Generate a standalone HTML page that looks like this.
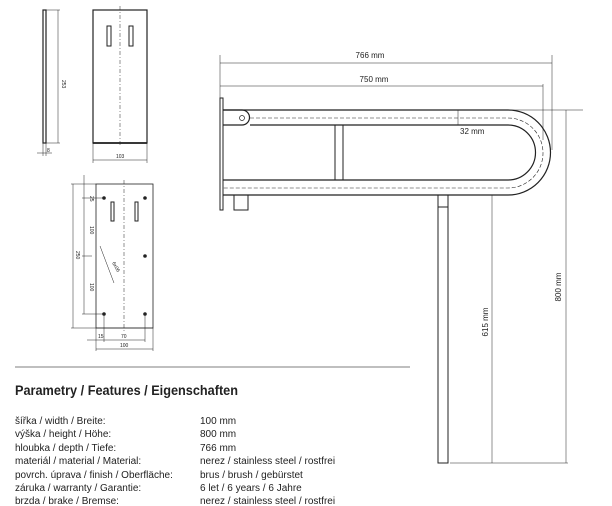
<!DOCTYPE html>
<html><head><meta charset="utf-8"><style>
html,body{margin:0;padding:0;background:#fff;width:612px;height:506px;overflow:hidden}
svg{position:absolute;left:0;top:0}
.t{font-family:"Liberation Sans",sans-serif;fill:#222}
</style></head><body>
<svg width="612" height="506" viewBox="0 0 612 506" xmlns="http://www.w3.org/2000/svg">
<g stroke="#222" fill="none" stroke-width="1">
<rect x="43" y="10" width="3" height="133" stroke-width="1.2"/>
<line x1="46" y1="10" x2="60" y2="10" stroke-width="0.5"/>
<line x1="46" y1="143" x2="60" y2="143" stroke-width="0.5"/>
<line x1="58" y1="10" x2="58" y2="143" stroke-width="0.5"/>
<line x1="37" y1="153" x2="52" y2="153" stroke-width="0.5"/>
<line x1="43" y1="143" x2="43" y2="156" stroke-width="0.5"/>
<line x1="46" y1="143" x2="46" y2="156" stroke-width="0.5"/>
<rect x="93" y="10" width="54" height="133" stroke-width="1.2"/>
<line x1="93" y1="143" x2="147" y2="143" stroke-width="1.8"/>
<line x1="120" y1="6" x2="120" y2="146" stroke-dasharray="4,2,1,2" stroke-width="0.5"/>
<rect x="107" y="26" width="4" height="20"/>
<rect x="129" y="26" width="4" height="20"/>
<line x1="93" y1="143" x2="93" y2="163" stroke-width="0.5"/>
<line x1="147" y1="143" x2="147" y2="163" stroke-width="0.5"/>
<line x1="93" y1="160" x2="147" y2="160" stroke-width="0.5"/>
<rect x="96" y="184" width="57" height="144" stroke-width="0.8"/>
<line x1="124" y1="180" x2="124" y2="332" stroke-dasharray="4,2,1,2" stroke-width="0.5"/>
<rect x="111" y="202" width="3" height="19"/>
<rect x="135" y="202" width="3" height="19"/>
<line x1="73" y1="184" x2="73" y2="328" stroke-width="0.5"/>
<line x1="71" y1="184" x2="96" y2="184" stroke-width="0.5"/>
<line x1="71" y1="328" x2="153" y2="328" stroke-width="0.5"/>
<line x1="84" y1="175" x2="84" y2="314" stroke-width="0.5"/>
<line x1="82" y1="198" x2="104" y2="198" stroke-width="0.5"/>
<line x1="82" y1="256" x2="92" y2="256" stroke-width="0.5"/>
<line x1="82" y1="314" x2="104" y2="314" stroke-width="0.5"/>
<line x1="100" y1="246" x2="114" y2="283" stroke-width="0.5"/>
<line x1="104" y1="314" x2="104" y2="342" stroke-width="0.5"/>
<line x1="145" y1="314" x2="145" y2="342" stroke-width="0.5"/>
<line x1="87" y1="340" x2="145" y2="340" stroke-width="0.5"/>
<line x1="96" y1="328" x2="96" y2="351" stroke-width="0.5"/>
<line x1="153" y1="328" x2="153" y2="351" stroke-width="0.5"/>
<line x1="96" y1="349" x2="153" y2="349" stroke-width="0.5"/>
</g>
<g fill="#222">
<circle cx="104" cy="198" r="1.8"/><circle cx="145" cy="198" r="1.8"/>
<circle cx="145" cy="256" r="1.8"/><circle cx="104" cy="314" r="1.8"/><circle cx="145" cy="314" r="1.8"/>
</g>
<g class="t" font-size="5">
<text x="62" y="80" transform="rotate(90 62 80)">253</text>
<text x="116" y="158">103</text>
<text x="47" y="152">8</text>
<text x="90" y="196" transform="rotate(90 90 196)">25</text>
<text x="90" y="226" transform="rotate(90 90 226)">100</text>
<text x="76" y="251" transform="rotate(90 76 251)">250</text>
<text x="90" y="283" transform="rotate(90 90 283)">100</text>
<text x="112" y="263" transform="rotate(60 112 263)">6x06</text>
<text x="98" y="338">15</text>
<text x="121" y="338">70</text>
<text x="120" y="347">100</text>
</g>
<g stroke="#222" fill="none">
<rect x="220" y="98" width="3" height="112" stroke-width="1"/>
<path d="M223 110 H508 A42.5 42.5 0 0 1 508 195 H223" stroke-width="1.2"/>
<path d="M250 125 H508 A27.5 27.5 0 0 1 508 180 H223" stroke-width="1.2"/>
<path d="M223 110 H242 A7.5 7.5 0 0 1 242 125 H223" stroke-width="1.2"/>
<path d="M250 118 H508 A35 35 0 0 1 508 188 H223" stroke-width="0.6" stroke-dasharray="4,2"/>
<circle cx="242" cy="118" r="2.5" stroke-width="0.7"/>
<rect x="335" y="125" width="8" height="55" stroke-width="1"/>
<rect x="234" y="195" width="14" height="15" stroke-width="1"/>
<rect x="438" y="195" width="10" height="12" stroke-width="1"/>
<rect x="438" y="207" width="10" height="256" stroke-width="1"/>
<line x1="220" y1="55" x2="220" y2="98" stroke-width="0.5"/>
<line x1="552" y1="55" x2="552" y2="150" stroke-width="0.5"/>
<line x1="543" y1="84" x2="543" y2="140" stroke-width="0.5"/>
<line x1="220" y1="63" x2="552" y2="63" stroke-width="0.5"/>
<line x1="220" y1="86" x2="543" y2="86" stroke-width="0.5"/>
<line x1="458" y1="110" x2="458" y2="125" stroke-width="0.5"/>
<line x1="508" y1="110" x2="583" y2="110" stroke-width="0.5"/>
<line x1="566" y1="110" x2="566" y2="463" stroke-width="0.5"/>
<line x1="492" y1="195" x2="492" y2="463" stroke-width="0.5"/>
<line x1="450" y1="463" x2="568" y2="463" stroke-width="0.5"/>
</g>
<line x1="15" y1="367" x2="410" y2="367" stroke="#999" stroke-width="1.2"/>
<g class="t" font-size="8">
<text x="370" y="58" text-anchor="middle">766 mm</text>
<text x="374" y="82" text-anchor="middle">750 mm</text>
<text x="460" y="134">32 mm</text>
<text x="561" y="287" transform="rotate(-90 561 287)" text-anchor="middle">800 mm</text>
<text x="488" y="322" transform="rotate(-90 488 322)" text-anchor="middle">615 mm</text>
</g>
<text class="t" x="15" y="395" font-size="13.5" font-weight="bold" textLength="223" lengthAdjust="spacingAndGlyphs">Parametry / Features / Eigenschaften</text>
<g class="t" font-size="10">
<text x="15" y="424">šířka / width / Breite:</text><text x="200" y="424">100 mm</text>
<text x="15" y="437">výška / height / Höhe:</text><text x="200" y="437">800 mm</text>
<text x="15" y="451">hloubka / depth / Tiefe:</text><text x="200" y="451">766 mm</text>
<text x="15" y="464">materiál / material / Material:</text><text x="200" y="464">nerez / stainless steel / rostfrei</text>
<text x="15" y="478">povrch. úprava / finish / Oberfläche:</text><text x="200" y="478">brus / brush / gebürstet</text>
<text x="15" y="491">záruka / warranty / Garantie:</text><text x="200" y="491">6 let / 6 years / 6 Jahre</text>
<text x="15" y="504">brzda / brake / Bremse:</text><text x="200" y="504">nerez / stainless steel / rostfrei</text>
</g>
</svg>
</body></html>
